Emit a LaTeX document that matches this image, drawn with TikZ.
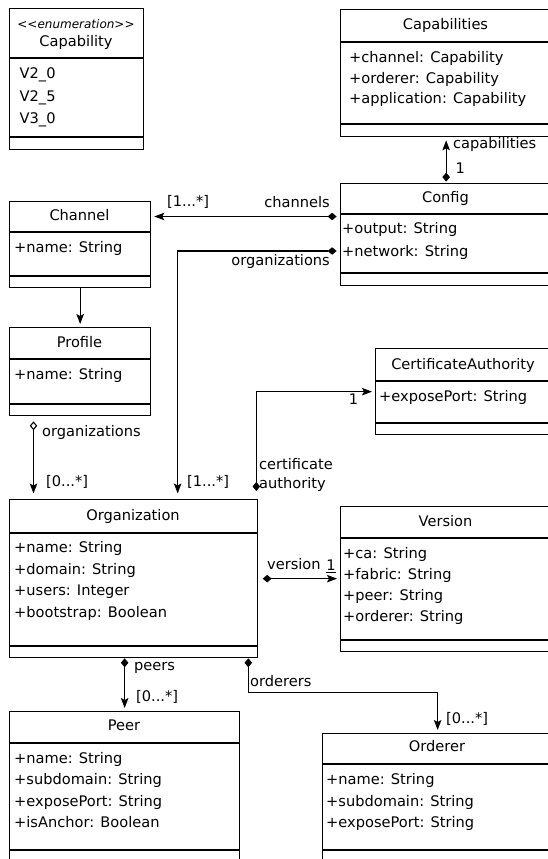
\documentclass[tikz,border=0pt]{standalone}
\usepackage{fontspec}
\setmainfont{DejaVu Sans}
\usetikzlibrary{arrows.meta,positioning,calc}
\tikzset{
  clsbox/.style={draw, line width=1.3pt, anchor=north west, inner sep=0pt},
  clsline/.style={line width=1.3pt},
  txt/.style={font=\fontsize{14.6}{19}\selectfont, inner sep=0pt},
  clstitle/.style={txt, text height=0.8em, text depth=0.1em},
  attr/.style={clstitle, anchor=west},
  lbl/.style={clstitle, anchor=west},
  conn/.style={line width=1.1pt},
  comp/.style={conn, {Diamond[length=9pt,width=7.5pt]}-{Stealth[length=10pt,width=7.5pt,inset=2pt]}, shorten >=3pt},
  aggr/.style={conn, {Diamond[open,length=9pt,width=7.5pt]}-{Stealth[length=10pt,width=7.5pt,inset=2pt]}, shorten <=5pt, shorten >=5.5pt},
  assoc/.style={conn, -{Stealth[length=10pt,width=7.5pt,inset=2pt]}, shorten >=3pt},
}
\begin{document}
\begin{tikzpicture}[x=1pt, y=-1pt]
  \useasboundingbox (0,0) rectangle (548,859);
  \clip (0,0) rectangle (548,859);

  % class boxes and compartment lines
  \foreach \n/\x/\y/\w/\h/\ha/\hb in {enum/9/8/134/141/50/129, caps/340/9/211/127/33/115, cfg/340/183/211/102/31/90, chan/9/201/141/86/31/75, prof/9/327/141/88/32/77, ca/375/348/176/86/33/75, org/9/499/248/158/34/147, ver/340/506/211/145/32/134, peer/9/711/230/150/32/139, ord/322/733/230/128/31/117} {
    \node[clsbox, minimum width=\w pt, minimum height=\h pt] (\n) at (\x,\y) {};
    \draw[clsline] (\x,{\y+\ha}) -- ++(\w,0);
    \draw[clsline] (\x,{\y+\hb}) -- ++(\w,0);
  }

  % class names
  \foreach \n/\x/\y/\txt in {caps/445.5/26/Capabilities, cfg/445.5/199/Config, chan/79.5/216.5/Channel, prof/79.5/344/Profile, ca/463/366/CertificateAuthority, org/133/517/Organization, ver/445.5/523/Version, peer/124/727/Peer, ord/437/748/Orderer}
    \node[clstitle] (\n-t) at (\x,\y) {\txt};
  \node[clstitle, font=\fontsize{12}{14}\selectfont\itshape] (enum-s) at (76,25) {<\kern0pt<enumeration>\kern0pt>};
  \node[clstitle] (enum-t) at (76,43) {Capability};

  % attributes
  \foreach \n/\x/\y/\dy/\list in {enum/19.5/75/22.5/{V2\_0,V2\_5,V3\_0}, caps/349/59/20.5/{+channel: Capability,+orderer: Capability,+application: Capability}, cfg/342/230/23/{+output: String,+network: String}, chan/14/249/21/{+name: String}, prof/14/376/21/{+name: String}, ca/379/398/21/{+exposePort: String}, org/14/549/21.7/{+name: String,+domain: String,+users: Integer,+bootstrap: Boolean}, ver/343/555/21/{+ca: String,+fabric: String,+peer: String,+orderer: String}, peer/14/760/21.3/{+name: String,+subdomain: String,+exposePort: String,+isAnchor: Boolean}, ord/326/781/21.5/{+name: String,+subdomain: String,+exposePort: String}}
    \foreach \txt [count=\i] in \list
      \node[attr] (\n-a\i) at (\x,{\y+(\i-1)*\dy}) {\txt};

  % connectors
  \draw[comp, shorten <=1.4pt] (cfg.north) -- (caps.south);
  \draw[comp, shorten <=3.4pt] (chan-t -| cfg.west) -- (chan-t -| chan.east);
  \draw[comp, shorten <=3.4pt, shorten >=5.5pt] ([yshift=2pt]cfg-a2.west -| cfg.west) -| ([xshift=44pt]org.north);
  \draw[assoc] (chan.south) -- (prof.north);
  \draw[aggr] ([xshift=24.5pt]prof.south west) -- ([xshift=24.5pt]prof.south west |- org.north);
  \draw[comp, shorten <=8pt] ([xshift=-2pt]org.north east) |- (ca.west);
  \draw[comp, shorten <=4.4pt] (org.east) -- (org.east -| ver.west);
  \draw[comp] (org.south -| peer.north) -- (peer.north);
  \draw[comp] ([xshift=-10pt]org.south east) -- ++(0,34) -| (ord.north);

  % connector labels
  \node[lbl] (caps-l) at (453,145) {capabilities};
  \node[lbl] (caps-m) at (455.5,170) {1};
  \node[lbl] (chan-m) at (167,203) {[1...*]};
  \node[lbl, anchor=east] (chan-l) at (330,204) {channels};
  \node[lbl, anchor=east] (orgs-l) at (330,262) {organizations};
  \node[lbl] (prof-l) at (42,433) {organizations};
  \node[lbl] (prof-m) at (46,483) {[0...*]};
  \node[lbl] (orgs-m) at (187,483) {[1...*]};
  \node[txt, anchor=west, align=left] (ca-l) at (259,475) {certificate\\authority};
  \node[clstitle] (ca-m) at (353.5,401) {1};
  \node[lbl] (ver-l) at (267,566) {version};
  \node[clstitle] (ver-m) at (331,567) {\underline{1}};
  \node[lbl] (peer-l) at (134,667) {peers};
  \node[lbl] (peer-m) at (136,698) {[0...*]};
  \node[lbl] (ord-l) at (250,683) {orderers};
  \node[lbl] (ord-m) at (446,720) {[0...*]};
\end{tikzpicture}
\end{document}
